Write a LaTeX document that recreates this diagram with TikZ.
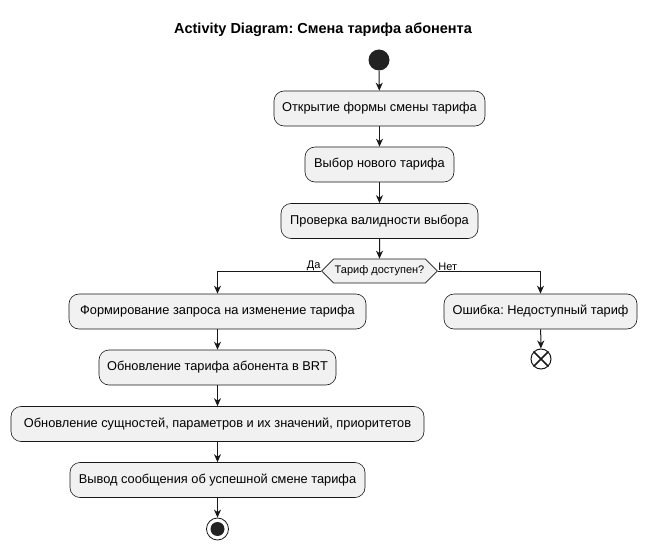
\documentclass[tikz,border=0pt]{standalone}
\usepackage{fontspec}
\setmainfont{Liberation Sans}
\usetikzlibrary{arrows.meta, shapes.symbols}
\definecolor{lineclr}{HTML}{181818}
\definecolor{boxfill}{HTML}{F1F1F1}
\definecolor{dotclr}{HTML}{222222}
\frenchspacing

\begin{document}
\begin{tikzpicture}[x=1pt, y=-1pt, >={Stealth[length=8pt,width=7pt,inset=2.5pt]},
  act/.style={draw=lineclr, line width=0.6pt, fill=boxfill, rounded corners=10pt,
    minimum height=35pt, inner xsep=6pt, font=\fontsize{12.8}{15}\selectfont},
  decide/.style={signal, signal to=west and east, draw=lineclr, line width=0.6pt,
    fill=boxfill, minimum height=24pt, inner xsep=1pt, inner ysep=0pt,
    font=\fontsize{11}{13}\selectfont},
  flow/.style={->, draw=lineclr, line width=1pt},
  lbl/.style={font=\fontsize{11}{13}\selectfont, inner sep=0.5pt}]
  \useasboundingbox (0,0) rectangle (649,551);

  % Title
  \node[font=\bfseries\fontsize{14.5}{16}\selectfont] (title) at (323,30)
    {Activity Diagram: Смена тарифа абонента};

  % Start
  \node[circle, fill=dotclr, minimum size=21pt, inner sep=0pt] (start) at (379,60) {};

  % Main branch
  \node[act, minimum width=211pt] (open) at (379.5,108.5) {Открытие формы смены тарифа};
  \node[act, minimum width=149pt] (choose) at (379.5,164.5) {Выбор нового тарифа};
  \node[act, minimum width=197pt] (check) at (379.5,221) {Проверка валидности выбора};
  \node[decide] (avail) at (379.5,271) {Тариф доступен?};

  % Yes branch
  \node[act, minimum width=297pt] (request) at (217.5,311.5) {Формирование запроса на изменение тарифа};
  \node[act, minimum width=237pt] (brt) at (217.5,367.5) {Обновление тарифа абонента в BRT};
  \node[act, minimum width=413pt] (entities) at (217.5,424) {Обновление сущностей, параметров и их значений, приоритетов};
  \node[act, minimum width=295pt] (message) at (217.5,480) {Вывод сообщения об успешной смене тарифа};
  \node[circle, draw=lineclr, line width=0.8pt, minimum size=22pt, inner sep=0pt] (stop) at (217.5,529) {};
  \fill[dotclr] (stop) circle (7pt);

  % No branch
  \node[act, minimum width=193pt] (error) at (540.5,311.5) {Ошибка: Недоступный тариф};
  \node[circle, draw=lineclr, line width=1pt, minimum size=20pt, inner sep=0pt] (halt) at (541,359) {};
  \draw[lineclr, line width=1.6pt] (halt.north east) -- (halt.south west);
  \draw[lineclr, line width=1.6pt] (halt.north west) -- (halt.south east);

  % Connectors
  \draw[flow] (start) -- (open);
  \draw[flow] (open) -- (choose);
  \draw[flow] (choose) -- (check);
  \draw[flow] (check) -- (avail);
  \draw[flow] (avail.west) -| (request.north);
  \draw[flow] (avail.east) -| (error.north);
  \draw[flow] (request) -- (brt);
  \draw[flow] (brt) -- (entities);
  \draw[flow] (entities) -- (message);
  \draw[flow] (message) -- (stop);
  \draw[flow] (error) -- (halt);

  % Branch labels
  \node[lbl, anchor=south east] (yes) at (avail.west) {Да};
  \node[lbl, anchor=south west] (no) at (avail.east) {Нет};
\end{tikzpicture}
\end{document}
